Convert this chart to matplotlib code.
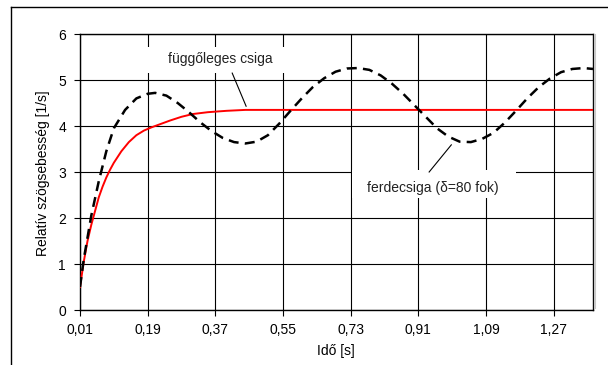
import numpy as np
import matplotlib
matplotlib.use('Agg')
import matplotlib.pyplot as plt
from matplotlib.lines import Line2D
from matplotlib.patches import Rectangle

plt.rcParams['font.family'] = ['Liberation Sans', 'DejaVu Sans']

# red curve: függőleges csiga
t_red = [0.01, 0.02, 0.03, 0.04, 0.05, 0.06, 0.07, 0.08, 0.09, 0.10,
         0.12, 0.14, 0.16, 0.18, 0.20, 0.22, 0.25, 0.28, 0.31, 0.35,
         0.40, 0.45, 0.60, 0.80, 1.00, 1.20, 1.375]
w_red = [0.5, 1.05, 1.5, 1.85, 2.15, 2.45, 2.68, 2.88, 3.05, 3.2,
         3.45, 3.65, 3.8, 3.9, 3.97, 4.03, 4.12, 4.2, 4.26, 4.3,
         4.33, 4.35, 4.35, 4.35, 4.35, 4.35, 4.35]

# dashed curve: ferdecsiga (delta = 80 fok)
t_dash = [0.01, 0.02, 0.04, 0.06, 0.08, 0.10, 0.13, 0.16, 0.19, 0.21,
          0.24, 0.27, 0.30, 0.33, 0.36, 0.39, 0.42, 0.45, 0.48, 0.51,
          0.54, 0.57, 0.60, 0.63, 0.66, 0.69, 0.72, 0.75, 0.78, 0.81,
          0.84, 0.87, 0.90, 0.93, 0.96, 0.99, 1.02, 1.05, 1.08, 1.11,
          1.14, 1.17, 1.20, 1.23, 1.26, 1.29, 1.32, 1.35, 1.375]
w_dash = [0.5, 1.1, 2.05, 2.8, 3.45, 3.95, 4.35, 4.6, 4.7, 4.72,
          4.66, 4.5, 4.3, 4.08, 3.89, 3.74, 3.65, 3.62, 3.66, 3.8,
          4.05, 4.33, 4.6, 4.85, 5.04, 5.18, 5.25, 5.26, 5.22, 5.1,
          4.92, 4.7, 4.45, 4.2, 3.95, 3.77, 3.66, 3.65, 3.72, 3.85,
          4.07, 4.33, 4.6, 4.84, 5.03, 5.17, 5.24, 5.26, 5.24]

x_ticks = [0.01, 0.19, 0.37, 0.55, 0.73, 0.91, 1.09, 1.27]
x_labels = ['0,01', '0,19', '0,37', '0,55', '0,73', '0,91', '1,09', '1,27']
y_ticks = [0, 1, 2, 3, 4, 5, 6]

fig = plt.figure(figsize=(6.08, 3.65), dpi=100)
ax = fig.add_axes([80 / 608, 1 - 310 / 365, 513 / 608, 276 / 365])

# outer chart frame (top and left edges visible)
fig.add_artist(Line2D([11 / 608, 1.0], [1 - 7 / 365, 1 - 7 / 365], color='black', lw=1.0))
fig.add_artist(Line2D([11 / 608, 11 / 608], [0.0, 1 - 7 / 365], color='black', lw=1.0))
# light shadow along the right edge of the plot area
fig.add_artist(Line2D([595 / 608, 595 / 608], [1 - 308 / 365, 1 - 35 / 365], color='#c8c8c8', lw=1.5))

ax.set_xlim(0.01, 1.375)
ax.set_ylim(0, 6)
ax.set_xticks(x_ticks)
ax.set_xticklabels(x_labels)
ax.set_yticks(y_ticks)
ax.grid(True, color='black', lw=0.8)
ax.set_axisbelow(True)
ax.tick_params(axis='both', labelsize=10, length=4, width=0.8, color='black')
ax.tick_params(axis='x', direction='out', pad=5)
ax.tick_params(axis='y', direction='out', pad=6)
for s in ax.spines.values():
    s.set_linewidth(1.0)

# white label boxes hide the grid behind the annotations
ax.add_patch(Rectangle((0.17, 5.15), 0.405, 0.56, facecolor='white', edgecolor='none', zorder=1.5))
ax.add_patch(Rectangle((0.734, 2.43), 0.437, 0.61, facecolor='white', edgecolor='none', zorder=1.5))

ax.plot(t_red, w_red, color='red', lw=1.4, zorder=3)
ax.plot(t_dash, w_dash, color='black', lw=1.8, dashes=(4, 2.5), zorder=3)

ax.text(0.383, 5.45, 'függőleges csiga', fontsize=10, ha='center', va='center', color='#222222', zorder=4)
ax.plot([0.415, 0.452], [5.15, 4.43], color='black', lw=0.8, zorder=4)
ax.text(0.95, 2.65, 'ferdecsiga (δ=80 fok)', fontsize=10, ha='center', va='center', color='#222222', zorder=4)
ax.plot([0.939, 0.998], [3.0, 3.59], color='black', lw=0.8, zorder=4)

ax.set_xlabel('Idő [s]', fontsize=10)
ax.xaxis.set_label_coords(0.499, -0.125)
ax.set_ylabel('Relatív szögsebesség [1/s]', fontsize=10)
ax.yaxis.set_label_coords(-0.058, 0.495)

fig.savefig('out.png', dpi=100)
